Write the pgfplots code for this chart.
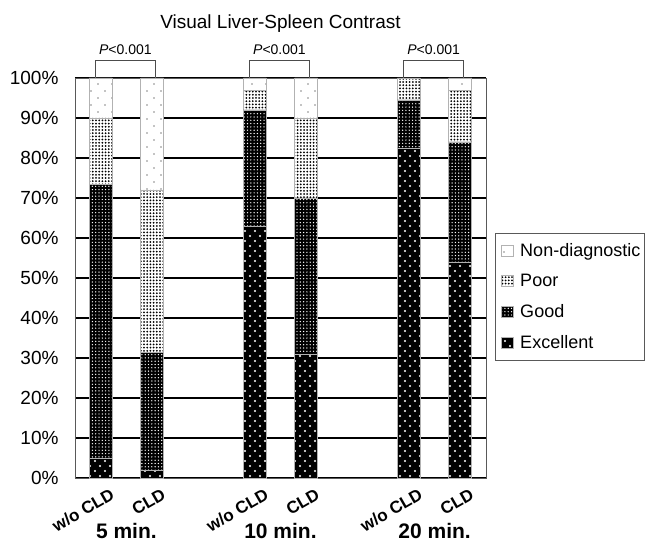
\documentclass[border=0pt]{standalone}
\usepackage{pgfplots}
\pgfplotsset{compat=1.18}
\usepackage{fontspec}
\setmainfont{Liberation Sans}
\usetikzlibrary{patterns.meta}

% bar fills: black/white halftone look of the original
\tikzset{
  exc/.style={fill=black, draw=gray!60, line width=0.8pt,
    postaction={pattern={Dots[distance=10pt,radius=1.1pt]}, pattern color=white},
    postaction={pattern={Dots[distance=10pt,radius=1.1pt,xshift=5pt,yshift=5pt]}, pattern color=white}},
  good/.style={fill=black, draw=gray!60, line width=0.8pt,
    postaction={pattern={Dots[distance=3.3pt,radius=0.7pt]}, pattern color=white}},
  poor/.style={fill=white, draw=gray!60, line width=0.8pt,
    postaction={pattern={Dots[distance=3.2pt,radius=1pt]}, pattern color=black}},
  nond/.style={fill=white, draw=gray!60, line width=0.8pt,
    postaction={pattern={Dots[distance=14pt,radius=0.6pt]}, pattern color=black},
    postaction={pattern={Dots[distance=14pt,radius=0.6pt,xshift=7pt,yshift=7pt]}, pattern color=black}},
}

\begin{document}
\begin{tikzpicture}
\begin{axis}[
  scale only axis, width=411pt, height=400pt,
  ybar stacked, bar width=23pt,
  xmin=-0.5, xmax=7.5, ymin=0, ymax=100,
  xtick={0,1,3,4,6,7},
  xticklabels={w/o CLD,CLD,w/o CLD,CLD,w/o CLD,CLD},
  xticklabel style={font=\fontsize{17}{19}\selectfont\bfseries,
    xshift=10pt, yshift=-5pt, rotate=30, anchor=north east},
  ytick={0,10,...,100},
  yticklabels={0\%,10\%,20\%,30\%,40\%,50\%,60\%,70\%,80\%,90\%,100\%},
  yticklabel style={font=\fontsize{19}{22}\selectfont, xshift=-13pt},
  ymajorgrids, grid style={black, line width=1.2pt},
  major tick length=0pt,
  axis line style={gray!70!black, line width=0.8pt},
  clip=false,
  legend image code/.code={%
    \path (0pt,0pt) node[inner sep=0pt, minimum width=20pt,
      minimum height=11pt, anchor=west] {};
    \draw[#1] (4pt,-5.5pt) rectangle (16pt,5.5pt);},
  reverse legend,
  legend cell align=left,
  legend style={at={(1.022,0.6125)}, anchor=north west, draw=gray!70!black,
    line width=0.8pt, font=\fontsize{18}{21}\selectfont,
    row sep=12.5pt, inner xsep=2pt, inner ysep=8pt,
    nodes={inner xsep=2pt}},
]
\addplot[exc]  coordinates {(0,5) (1,2) (3,63) (4,31) (6,82.5) (7,54)};
\addlegendentry{Excellent}
\addplot[good] coordinates {(0,68.3) (1,29.5) (3,29) (4,39) (6,12) (7,30)};
\addlegendentry{Good}
\addplot[poor] coordinates {(0,16.7) (1,40.5) (3,5) (4,20) (6,5.5) (7,13)};
\addlegendentry{Poor}
\addplot[nond] coordinates {(0,10) (1,28) (3,3) (4,10) (6,0) (7,3)};
\addlegendentry{Non-diagnostic}

% title
\node[font=\fontsize{19}{22}\selectfont, anchor=base]
  at ([yshift=49pt]rel axis cs:0.5,1) {Visual Liver-Spleen Contrast};

% significance brackets
\draw[gray!60!black, line width=0.8pt]
  (axis cs:-0.1,100) -- ([yshift=18pt]axis cs:-0.1,100)
  -- ([yshift=18pt]axis cs:1.06,100) -- (axis cs:1.06,100);
\draw[gray!60!black, line width=0.8pt]
  (axis cs:2.9,100) -- ([yshift=18pt]axis cs:2.9,100)
  -- ([yshift=18pt]axis cs:4.06,100) -- (axis cs:4.06,100);
\draw[gray!60!black, line width=0.8pt]
  (axis cs:5.9,100) -- ([yshift=18pt]axis cs:5.9,100)
  -- ([yshift=18pt]axis cs:7.06,100) -- (axis cs:7.06,100);
\node[font=\fontsize{14}{16}\selectfont, anchor=base]
  at ([yshift=23pt]axis cs:0.48,100) {\textit{P}<0.001};
\node[font=\fontsize{14}{16}\selectfont, anchor=base]
  at ([yshift=23pt]axis cs:3.48,100) {\textit{P}<0.001};
\node[font=\fontsize{14}{16}\selectfont, anchor=base]
  at ([yshift=23pt]axis cs:6.48,100) {\textit{P}<0.001};

% group labels
\node[font=\fontsize{21}{24}\selectfont\bfseries, anchor=base]
  at ([yshift=-60pt]axis cs:0.5,0) {5 min.};
\node[font=\fontsize{21}{24}\selectfont\bfseries, anchor=base]
  at ([yshift=-60pt]axis cs:3.5,0) {10 min.};
\node[font=\fontsize{21}{24}\selectfont\bfseries, anchor=base]
  at ([yshift=-60pt]axis cs:6.5,0) {20 min.};
\end{axis}
\pgfresetboundingbox
\path[use as bounding box]
  ([shift={(-75pt,-68pt)}]current axis.south west)
  rectangle ([shift={(580pt,478pt)}]current axis.south west);
\end{tikzpicture}
\end{document}
